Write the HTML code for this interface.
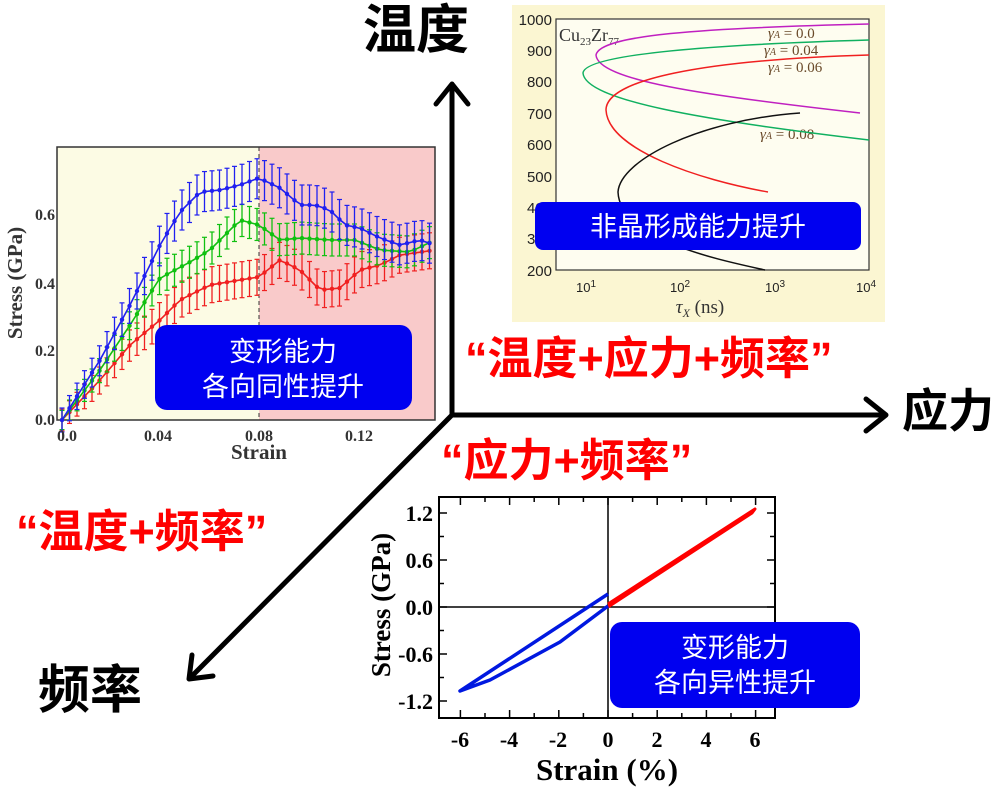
<!DOCTYPE html>
<html><head><meta charset="utf-8"><style>
body{margin:0;background:#fff;width:994px;height:787px;overflow:hidden}
svg{display:block}
.cjk{font-family:"Liberation Sans","Noto Sans CJK SC",sans-serif;font-weight:bold}
.ser{font-family:"Liberation Serif",serif;font-weight:bold}
</style></head><body>
<svg id="s" width="994" height="787" viewBox="0 0 994 787" xmlns="http://www.w3.org/2000/svg">
<rect x="512" y="5" width="373" height="317" fill="#fbf6d2"/>
<rect x="556" y="19" width="313" height="251" fill="#fefdf0" stroke="#333" stroke-width="1.2"/>
<g font-family="Liberation Sans,sans-serif" font-size="15" fill="#222" text-anchor="end">
<text x="552" y="25">1000</text><text x="552" y="56">900</text><text x="552" y="87">800</text><text x="552" y="119">700</text><text x="552" y="150">600</text><text x="552" y="182">500</text><text x="552" y="213">400</text><text x="552" y="244">300</text><text x="552" y="276">200</text>
</g>
<g font-family="Liberation Sans,sans-serif" font-size="13" fill="#222" text-anchor="middle">
<text x="586" y="292">10<tspan dy="-5" font-size="10">1</tspan></text><text x="680" y="292">10<tspan dy="-5" font-size="10">2</tspan></text><text x="775" y="292">10<tspan dy="-5" font-size="10">3</tspan></text><text x="866" y="292">10<tspan dy="-5" font-size="10">4</tspan></text>
</g>
<text x="700" y="313" font-family="Liberation Serif,serif" font-size="19" font-style="italic" fill="#333" text-anchor="middle">τ<tspan font-size="12" dy="4">X</tspan><tspan dy="-4" font-style="normal"> (ns)</tspan></text>
<text x="559" y="41" font-family="Liberation Serif,serif" font-size="18" fill="#333">Cu<tspan font-size="11" dy="4">23</tspan><tspan dy="-4">Zr</tspan><tspan font-size="11" dy="4">77</tspan></text>
<g font-family="Liberation Serif,serif" font-size="15" fill="#6a4a2a" font-style="italic">
<text x="768" y="38">γ<tspan font-size="10">A</tspan><tspan font-style="normal"> = 0.0</tspan></text>
<text x="764" y="55">γ<tspan font-size="10">A</tspan><tspan font-style="normal"> = 0.04</tspan></text>
<text x="768" y="72">γ<tspan font-size="10">A</tspan><tspan font-style="normal"> = 0.06</tspan></text>
<text x="760" y="139">γ<tspan font-size="10">A</tspan><tspan font-style="normal"> = 0.08</tspan></text>
</g>
<g fill="none" stroke-width="1.5">
<path d="M869,24 C700,28 600,35 596,55 C598,80 700,95 860,113" stroke="#c020c0"/>
<path d="M869,40 C700,45 585,55 583,73 C585,100 700,120 869,140" stroke="#10b060"/>
<path d="M869,55 C700,60 606,80 606,110 C608,150 700,180 768,192" stroke="#f02020"/>
<path d="M800,113 C700,120 620,160 618,192 C620,240 720,260 765,270" stroke="#111"/>
</g>
<rect x="535" y="202" width="326" height="48" rx="8" fill="#0000f0"/>
<text x="698" y="236" class="cjk" font-size="27" fill="#fff" text-anchor="middle" style="font-weight:normal">非晶形成能力提升</text>

<rect x="57" y="147" width="202" height="273" fill="#fcfbe4"/>
<rect x="259" y="147" width="176" height="273" fill="#f9caca"/>
<rect x="57" y="147" width="378" height="273" fill="none" stroke="#333" stroke-width="1.5"/>
<line x1="259" y1="147" x2="259" y2="420" stroke="#333" stroke-dasharray="4,3"/>
<g id="lp"></g>
<g class="ser" font-size="16" fill="#333" font-family="Liberation Serif,serif">
<text x="55" y="425" text-anchor="end">0.0</text><text x="55" y="356" text-anchor="end">0.2</text><text x="55" y="289" text-anchor="end">0.4</text><text x="55" y="220" text-anchor="end">0.6</text>
<text x="67" y="441" text-anchor="middle">0.0</text><text x="158" y="441" text-anchor="middle">0.04</text><text x="259" y="441" text-anchor="middle">0.08</text><text x="359" y="441" text-anchor="middle">0.12</text>
<text x="259" y="459" text-anchor="middle" font-size="21">Strain</text>
<text transform="translate(22,283) rotate(-90)" text-anchor="middle" font-size="21">Stress (GPa)</text>
</g>
<rect x="155" y="325" width="257" height="85" rx="12" fill="#0000f0"/>
<text x="283" y="361" class="cjk" font-size="27" fill="#fff" text-anchor="middle" style="font-weight:normal">变形能力</text>
<text x="283" y="396" class="cjk" font-size="27" fill="#fff" text-anchor="middle" style="font-weight:normal">各向同性提升</text>

<rect x="439" y="497" width="336" height="221" fill="#fff" stroke="#000" stroke-width="2"/>
<line x1="608" y1="497" x2="608" y2="718" stroke="#000" stroke-width="1.5"/>
<line x1="439" y1="607" x2="775" y2="607" stroke="#000" stroke-width="1.5"/>
<g id="bt" stroke="#000" stroke-width="1.5"></g>
<path d="M608,604 L755,509 L752,513 L608,607" fill="#f00" stroke="#f00" stroke-width="3" stroke-linejoin="round"/>
<path d="M608,594 L460,691 L490,680 L560,642 L608,606" fill="none" stroke="#0018e0" stroke-width="3.5" stroke-linejoin="round"/>
<g class="ser" font-size="22" fill="#000">
<text x="433" y="521" text-anchor="end">1.2</text><text x="433" y="568" text-anchor="end">0.6</text><text x="433" y="615" text-anchor="end">0.0</text><text x="433" y="662" text-anchor="end">-0.6</text><text x="433" y="709" text-anchor="end">-1.2</text>
<text x="460" y="747" text-anchor="middle">-6</text><text x="509" y="747" text-anchor="middle">-4</text><text x="558" y="747" text-anchor="middle">-2</text><text x="608" y="747" text-anchor="middle">0</text><text x="657" y="747" text-anchor="middle">2</text><text x="706" y="747" text-anchor="middle">4</text><text x="755" y="747" text-anchor="middle">6</text>
<text x="607" y="780" text-anchor="middle" font-size="31">Strain (%)</text>
<text transform="translate(390,605) rotate(-90)" text-anchor="middle" font-size="27">Stress (GPa)</text>
</g>
<rect x="610" y="622" width="250" height="86" rx="12" fill="#0000f0"/>
<text x="735" y="657" class="cjk" font-size="27" fill="#fff" text-anchor="middle" style="font-weight:normal">变形能力</text>
<text x="735" y="692" class="cjk" font-size="27" fill="#fff" text-anchor="middle" style="font-weight:normal">各向异性提升</text>

<g stroke="#000" stroke-width="5" fill="none" stroke-linecap="round" stroke-linejoin="round">
<line x1="452" y1="415" x2="452" y2="86"/><polyline points="436,104 452,84 468,104"/>
<line x1="452" y1="415" x2="884" y2="415"/><polyline points="866,399 886,415 866,431"/>
<line x1="452" y1="415" x2="190" y2="678"/><polyline points="192,655 189,679 213,676"/>
</g>
<text x="363" y="48" class="cjk" font-size="53" fill="#000">温度</text>
<text x="902" y="427" class="cjk" font-size="46" fill="#000">应力</text>
<text x="38" y="708" class="cjk" font-size="52" fill="#000">频率</text>
<text x="465" y="374" class="cjk" font-size="45" fill="#f00">“温度+应力+频率”</text>
<text x="441" y="476" class="cjk" font-size="45" fill="#f00">“应力+频率”</text>
<text x="16" y="547" class="cjk" font-size="45" fill="#f00">“温度+频率”</text>
</svg>
<script>
var NS="http://www.w3.org/2000/svg";
function mk(p,t,a){var e=document.createElementNS(NS,t);for(var k in a)e.setAttribute(k,a[k]);p.appendChild(e);return e;}
var lp=document.getElementById("lp");
function interp(pts,x){for(var i=0;i<pts.length-1;i++){if(x>=pts[i][0]&&x<=pts[i+1][0]){var f=(x-pts[i][0])/(pts[i+1][0]-pts[i][0]);return pts[i][1]+f*(pts[i+1][1]-pts[i][1]);}}return pts[pts.length-1][1];}
var S=[["#f02020",[[62,420],[100,380],[130,345],[160,320],[180,300],[210,285],[240,280],[259,277],[280,260],[300,270],[320,290],[340,288],[360,270],[380,265],[400,255],[435,250]],18],
["#10c010",[[62,420],[100,370],[130,325],[160,278],[190,262],[210,250],[240,220],[259,225],[280,240],[300,238],[330,240],[355,240],[380,250],[410,252],[435,240]],16],
["#2020f0",[[62,420],[100,360],[130,305],[160,245],[180,212],[200,192],[220,190],[240,185],[259,178],[280,188],[300,205],[315,205],[330,210],[345,225],[360,228],[380,238],[400,245],[420,240],[435,245]],20]];
S.forEach(function(s){var d="";for(var x=62;x<=434;x+=7.5){var y=interp(s[1],x);d+=(d?"L":"M")+x+","+y.toFixed(1);var e=s[2]*(0.6+0.4*Math.min(1,(x-62)/100));
mk(lp,"line",{x1:x,y1:y-e,x2:x,y2:y+e,stroke:s[0],"stroke-width":1.3});mk(lp,"line",{x1:x-2.5,y1:y-e,x2:x+2.5,y2:y-e,stroke:s[0],"stroke-width":1.2});mk(lp,"line",{x1:x-2.5,y1:y+e,x2:x+2.5,y2:y+e,stroke:s[0],"stroke-width":1.2});
mk(lp,"circle",{cx:x,cy:y,r:2.2,fill:s[0]});}
mk(lp,"path",{d:d,fill:"none",stroke:s[0],"stroke-width":1.6});});
var bt=document.getElementById("bt");
for(var i=-6;i<=6;i++){var x=608+i*24.6;mk(bt,"line",{x1:x,y1:718,x2:x,y2:i%2?713:710});mk(bt,"line",{x1:x,y1:497,x2:x,y2:i%2?502:505});}
for(var j=-4;j<=4;j++){var y=607-j*23.5;mk(bt,"line",{x1:439,y1:y,x2:j%2?444:447,y2:y});mk(bt,"line",{x1:775,y1:y,x2:j%2?770:767,y2:y});}
</script>
</body></html>
